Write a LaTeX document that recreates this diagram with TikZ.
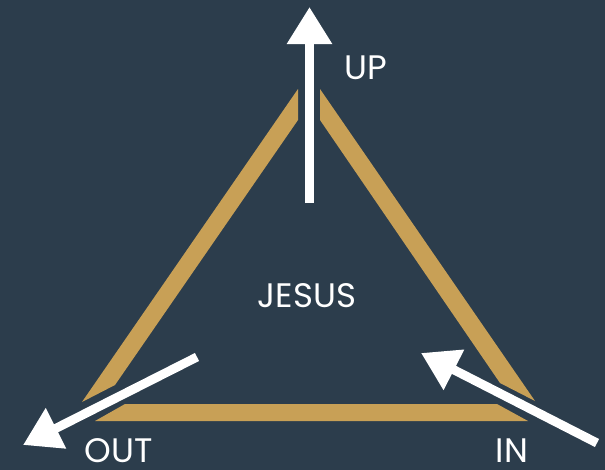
\documentclass[tikz,border=0pt]{standalone}
\usepackage{fontspec}
\setmainfont{Poppins}
\usetikzlibrary{arrows.meta}
\definecolor{navy}{HTML}{2C3D4C}
\definecolor{gold}{HTML}{C8A056}
\tikzset{
  bar/.style={fill=gold, draw=none},
  move/.style={white, line width=0.27cm, -{Triangle[length=1.11cm, width=1.29cm]}},
  word/.style={text=white, font=\fontsize{29}{32}\selectfont, inner sep=0pt}
}
\begin{document}
\begin{tikzpicture}[x=0.03cm, y=-0.03cm]
\fill[navy] (0,0) rectangle (605,470);
\useasboundingbox (0,0) rectangle (605,470);
\fill[bar] (298,89) -- (298,120) -- (115,385) -- (82,402) -- cycle;
\fill[bar] (320,89) -- (320,120) -- (500,383) -- (535,401) -- cycle;
\fill[bar] (125,404) -- (497,404) -- (528,421) -- (95,421) -- cycle;
\coordinate (upTail) at (309.5,203);
\coordinate (upTip) at (309.5,7);
\coordinate (outTail) at (197,357);
\coordinate (outTip) at (23,445);
\coordinate (inTail) at (597,443);
\coordinate (inTip) at (421,353);
\draw[move] (upTail) -- (upTip);
\draw[move] (outTail) -- (outTip);
\draw[move] (inTail) -- (inTip);
\node[word] (up) at (366,68) {UP};
\node[word] (jesus) at (307,296) {JESUS};
\node[word] (out) at (119,451) {OUT};
\node[word] (in) at (512,451) {IN};
\end{tikzpicture}
\end{document}
